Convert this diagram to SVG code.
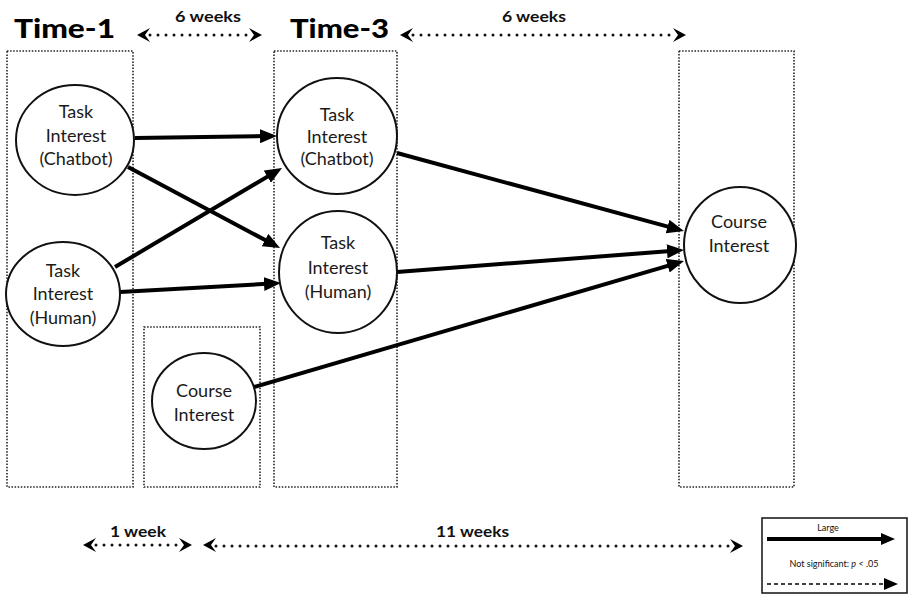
<svg xmlns="http://www.w3.org/2000/svg" width="911" height="596" viewBox="0 0 911 596">
<style>
.box{fill:none;stroke:#222;stroke-width:1.6;stroke-dasharray:1.5 1.6}
.node{fill:#fff;stroke:#111;stroke-width:2}
.lbl{font-family:Lato,"Open Sans",sans-serif;font-size:18px;fill:#1a1a1a;text-anchor:middle}
.title{font-family:Lato,"Liberation Sans",sans-serif;font-weight:900;font-size:27px;fill:#000}
.dur{font-family:Lato,"Liberation Sans",sans-serif;font-weight:bold;font-size:16px;fill:#111}
.edge{stroke:#000;stroke-width:4;fill:none;marker-end:url(#ah)}
.dots{stroke:#111;stroke-width:3;stroke-linecap:round;stroke-dasharray:0 8;fill:none}
.chev{fill:#000}
.leg{font-family:Lato,"Liberation Sans",sans-serif;font-size:9px;fill:#111;text-anchor:middle}
</style>
<defs>
<marker id="ah" markerUnits="userSpaceOnUse" markerWidth="17" markerHeight="14" refX="7" refY="7" orient="auto">
<path d="M0,0 L17,7 L0,14 z" fill="#000"/>
</marker>
<marker id="ahs" markerUnits="userSpaceOnUse" markerWidth="14" markerHeight="12" refX="4" refY="6" orient="auto">
<path d="M0,0 L14,6 L0,12 z" fill="#000"/>
</marker>
</defs>

<g id="frames">
<rect class="box" x="7" y="51" width="126" height="436"/>
<rect class="box" x="144" y="327" width="116" height="160"/>
<rect class="box" x="274" y="51" width="123" height="436"/>
<rect class="box" x="679" y="51" width="115" height="436"/>
</g>

<g id="titles">
<text class="title" x="14" y="38" textLength="101" lengthAdjust="spacingAndGlyphs">Time-1</text>
<text class="title" x="290" y="38" textLength="99" lengthAdjust="spacingAndGlyphs">Time-3</text>
</g>

<g id="durations">
<text class="dur" x="175" y="22" textLength="66" lengthAdjust="spacingAndGlyphs">6 weeks</text>
<line class="dots" x1="150" y1="35" x2="250" y2="35"/>
<path class="chev" d="M137,35 L150,28 L145,35 L150,42 z"/>
<path class="chev" d="M262,35 L249,28 L254,35 L249,42 z"/>

<text class="dur" x="502" y="22" textLength="64" lengthAdjust="spacingAndGlyphs">6 weeks</text>
<line class="dots" x1="413" y1="35" x2="672" y2="35"/>
<path class="chev" d="M400,35 L413,28 L408,35 L413,42 z"/>
<path class="chev" d="M686,35 L673,28 L678,35 L673,42 z"/>

<text class="dur" x="110" y="537" textLength="56" lengthAdjust="spacingAndGlyphs">1 week</text>
<line class="dots" x1="96" y1="545" x2="180" y2="545"/>
<path class="chev" d="M83,545 L96,538 L91,545 L96,552 z"/>
<path class="chev" d="M192,545 L179,538 L184,545 L179,552 z"/>

<text class="dur" x="436" y="537" textLength="73" lengthAdjust="spacingAndGlyphs">11 weeks</text>
<line class="dots" x1="216" y1="546" x2="730" y2="546"/>
<path class="chev" d="M203,545 L216,538 L211,545 L216,552 z"/>
<path class="chev" d="M743,546 L730,539 L735,546 L730,553 z"/>
</g>

<g id="connectors">
<line class="edge" x1="135" y1="138" x2="267" y2="136.1"/>
<line class="edge" x1="128" y1="167" x2="271.2" y2="243.3"/>
<line class="edge" x1="115" y1="267" x2="273.4" y2="173.1"/>
<line class="edge" x1="120" y1="292" x2="271" y2="283.6"/>
<line class="edge" x1="397" y1="153" x2="674.3" y2="228.4"/>
<line class="edge" x1="397" y1="272" x2="674" y2="250.8"/>
<line class="edge" x1="254" y1="387" x2="674.4" y2="263.8"/>
</g>

<g id="t1-chatbot">
<ellipse class="node" cx="75" cy="140" rx="59" ry="55"/>
<text class="lbl" x="76" y="118">Task</text>
<text class="lbl" x="76" y="142">Interest</text>
<text class="lbl" x="76" y="165">(Chatbot)</text>
</g>
<g id="t1-human">
<ellipse class="node" cx="63" cy="294" rx="57" ry="52"/>
<text class="lbl" x="63" y="277">Task</text>
<text class="lbl" x="63" y="300">Interest</text>
<text class="lbl" x="63" y="324">(Human)</text>
</g>
<g id="t2-course">
<ellipse class="node" cx="204" cy="401" rx="52" ry="48"/>
<text class="lbl" x="204" y="397">Course</text>
<text class="lbl" x="204" y="421">Interest</text>
</g>
<g id="t3-chatbot">
<ellipse class="node" cx="337" cy="136" rx="60" ry="58"/>
<text class="lbl" x="337" y="121">Task</text>
<text class="lbl" x="337" y="143">Interest</text>
<text class="lbl" x="337" y="165">(Chatbot)</text>
</g>
<g id="t3-human">
<ellipse class="node" cx="338" cy="272" rx="59" ry="61"/>
<text class="lbl" x="338" y="249">Task</text>
<text class="lbl" x="338" y="274">Interest</text>
<text class="lbl" x="338" y="298">(Human)</text>
</g>
<g id="t4-course">
<ellipse class="node" cx="740" cy="245" rx="56" ry="58"/>
<text class="lbl" x="739" y="228">Course</text>
<text class="lbl" x="739" y="252">Interest</text>
</g>

<g id="legend">
<rect x="762" y="518" width="145" height="75" fill="#fff" stroke="#111" stroke-width="1.5"/>
<text class="leg" x="828" y="531">Large</text>
<line x1="767" y1="539" x2="885" y2="539" stroke="#000" stroke-width="4" marker-end="url(#ahs)"/>
<text class="leg" x="834" y="567">Not significant: <tspan font-style="italic">p</tspan> &lt; .05</text>
<line x1="767" y1="584" x2="888" y2="584" stroke="#000" stroke-width="1.5" stroke-dasharray="4 3" marker-end="url(#ahs)"/>
</g>
</svg>
